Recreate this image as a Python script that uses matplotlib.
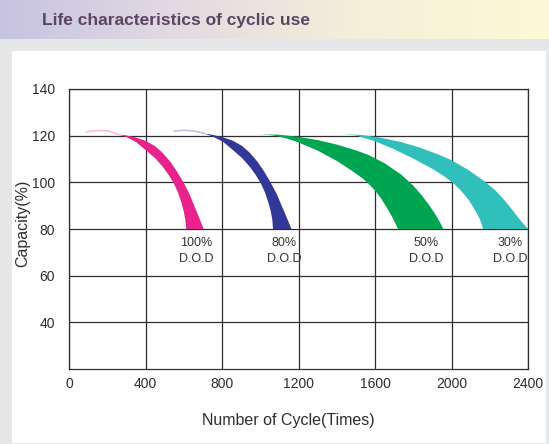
import matplotlib
matplotlib.use('Agg')
import matplotlib.pyplot as plt
import numpy as np

plt.rcParams['font.family'] = ['Liberation Sans', 'DejaVu Sans']

# cycles and capacity (%)
pink_outer_x = [256, 300, 350, 400, 450, 490, 530, 565, 600, 630, 655, 680, 704]
pink_outer_y = [120.6, 120.1, 119.2, 117.8, 115.5, 112.6, 108.8, 104.6, 99.8, 95, 90, 85, 80]
pink_inner_x = [256, 300, 350, 404, 450, 491, 520, 548, 570, 587, 600, 608, 613]
pink_inner_y = [120.6, 119.4, 117.3, 113.6, 110.4, 106.6, 103.3, 99.6, 95.6, 91.5, 87.6, 84, 80]
pink_tail_x = [90, 130, 170, 210, 256]
pink_tail_y = [121.6, 122, 122.2, 121.9, 120.6]

blue_outer_x = [709, 755, 805, 855, 905, 945, 985, 1020, 1055, 1086, 1112, 1138, 1163]
blue_outer_y = [120.9, 120.3, 119.3, 117.9, 115.6, 112.7, 108.9, 104.7, 99.8, 95, 90, 85, 80]
blue_inner_x = [709, 755, 805, 859, 905, 946, 975, 1003, 1025, 1042, 1055, 1063, 1067]
blue_inner_y = [120.9, 119.5, 117.4, 113.7, 110.4, 106.6, 103.3, 99.6, 95.6, 91.5, 87.6, 84, 80]
blue_tail_x = [552, 600, 650, 709]
blue_tail_y = [122, 122.3, 122.1, 120.9]

green_outer_x = [997, 1100, 1200, 1300, 1400, 1500, 1564, 1650, 1739, 1800, 1843, 1880, 1913, 1937, 1957]
green_outer_y = [120.6, 120.4, 119.5, 118.1, 116.2, 113.7, 111.8, 108.2, 103.2, 98.6, 94.6, 90.6, 86.6, 83.3, 80]
green_inner_x = [997, 1050, 1100, 1150, 1200, 1300, 1400, 1480, 1530, 1564, 1600, 1630, 1660, 1690, 1721]
green_inner_y = [120.6, 120.3, 119.6, 118.5, 117.1, 113.6, 109.2, 104.9, 102, 99.6, 96.5, 93.3, 89.4, 85.1, 80]

teal_outer_x = [1433, 1530, 1630, 1730, 1830, 1930, 2000, 2090, 2170, 2230, 2275, 2315, 2350, 2376, 2400]
teal_outer_y = [120.6, 120.3, 119.1, 117.4, 115, 112, 109.5, 105.2, 100.6, 96.5, 92.5, 88.5, 84.8, 82.2, 80]
teal_inner_x = [1433, 1500, 1600, 1700, 1800, 1900, 1960, 2010, 2050, 2090, 2130, 2150, 2166]
teal_inner_y = [120.6, 120.1, 117.6, 114.2, 110.2, 105.8, 102.7, 99.6, 96.4, 92.4, 87.2, 83.8, 80]

dod_labels = ['100%\nD.O.D', '80%\nD.O.D', '50%\nD.O.D', '30%\nD.O.D']
dod_x = [663, 1123, 1867, 2307]

x_ticks = [0, 400, 800, 1200, 1600, 2000, 2400]
y_ticks = [40, 60, 80, 100, 120, 140]

W, H = 549, 444
fig = plt.figure(figsize=(W / 100, H / 100), dpi=100)

# page background: grey frame, gradient banner, white panel
bg = fig.add_axes([0, 0, 1, 1])
bg.axis('off')
bg.add_patch(plt.Rectangle((0, 0), W, H, color='#e6e7e9', lw=0, zorder=0))
grad = np.linspace(0, 1, 256).reshape(1, -1)
cmap = matplotlib.colors.LinearSegmentedColormap.from_list(
    'banner', ['#c6c3e1', '#e4dbe2', '#f6efd9', '#fdf9d6'])
bg.imshow(grad, extent=[0, W, 39, 0], aspect='auto', cmap=cmap, zorder=1)
bg.add_patch(plt.Rectangle((12, 51), 534, 392, color='white', lw=0, zorder=1))
bg.text(42, 20, 'Life characteristics of cyclic use', fontsize=12.5,
        fontweight='bold', color='#5b4662', va='center', ha='left', zorder=3)
bg.set_xlim(0, W)
bg.set_ylim(H, 0)

ax = fig.add_axes([69 / W, (H - 369) / H, 459 / W, 280 / H])
ax.set_xlim(0, 2400)
ax.set_ylim(20, 140)

bands = [
    (pink_outer_x, pink_outer_y, pink_inner_x, pink_inner_y, '#e8248c'),
    (blue_outer_x, blue_outer_y, blue_inner_x, blue_inner_y, '#313896'),
    (green_outer_x, green_outer_y, green_inner_x, green_inner_y, '#00a551'),
    (teal_outer_x, teal_outer_y, teal_inner_x, teal_inner_y, '#30bfba'),
]
for ox, oy, ix, iy, c in bands:
    px = list(ox) + list(ix[::-1])
    py = list(oy) + list(iy[::-1])
    ax.fill(px, py, color=c, lw=0, zorder=2)

ax.plot(pink_tail_x, pink_tail_y, color='#e8248c', lw=1.2, alpha=0.3, zorder=2)
ax.plot(blue_tail_x, blue_tail_y, color='#313896', lw=1.2, alpha=0.3, zorder=2)

for lab, x in zip(dod_labels, dod_x):
    ax.text(x, 70.4, lab, ha='center', va='center', fontsize=9,
            color='#333333', linespacing=1.45)

ax.set_xticks(x_ticks)
ax.set_yticks(y_ticks)
ax.grid(True, color='#2e2e2e', lw=0.9, zorder=1)
ax.set_axisbelow(True)
for s in ax.spines.values():
    s.set_color('#2e2e2e')
    s.set_linewidth(0.9)
ax.tick_params(length=0, labelsize=10, colors='#2e2e2e')
ax.tick_params(axis='y', pad=10)
ax.tick_params(axis='x', pad=6)

ax.set_ylabel('Capacity(%)', fontsize=11.5, color='#2e2e2e')
ax.yaxis.set_label_coords(-0.085, 0.52)
ax.set_xlabel('Number of Cycle(Times)', fontsize=11.5, color='#2e2e2e')
ax.xaxis.set_label_coords(0.477, -0.157)

fig.savefig('out.png', dpi=100)
